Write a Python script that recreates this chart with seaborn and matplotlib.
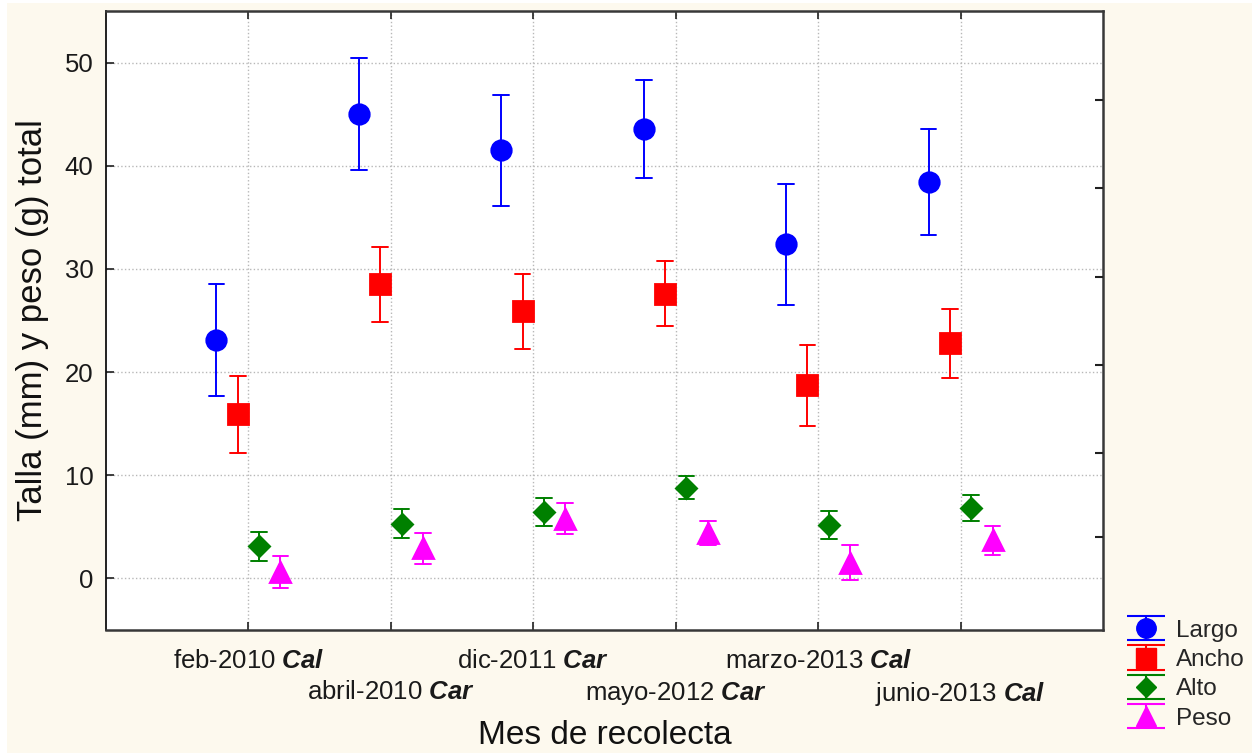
import numpy as np
import pandas as pd
import matplotlib
matplotlib.use("Agg")
import matplotlib.pyplot as plt
import seaborn as sns
from matplotlib.patches import Rectangle

# ---------------- data ----------------
meses = ["feb-2010 $\\mathbfit{Cal}$", "abril-2010 $\\mathbfit{Car}$",
         "dic-2011 $\\mathbfit{Car}$", "mayo-2012 $\\mathbfit{Car}$",
         "marzo-2013 $\\mathbfit{Cal}$", "junio-2013 $\\mathbfit{Cal}$"]
variables = ["Largo", "Ancho", "Alto", "Peso"]

largo_media = [23.1, 45.0, 41.5, 43.6, 32.4, 38.4]
largo_err = [5.4, 5.4, 5.4, 4.75, 5.85, 5.15]
ancho_media = [15.9, 28.5, 25.9, 27.6, 18.7, 22.8]
ancho_err = [3.7, 3.6, 3.65, 3.15, 3.9, 3.35]
alto_media = [3.1, 5.3, 6.4, 8.8, 5.2, 6.8]
alto_err = [1.4, 1.4, 1.35, 1.1, 1.35, 1.25]
peso_media = [0.6, 2.9, 5.8, 4.4, 1.5, 3.7]
peso_err = [1.55, 1.5, 1.5, 1.2, 1.7, 1.4]

yticks = [0, 10, 20, 30, 40, 50]
right_ticks = [46.4, 37.8, 29.2, 20.7, 12.2, 4.0]

colores = ["#0000FF", "#FF0000", "#008000", "#FF00FF"]
marcadores = ["o", "s", "D", "^"]
tam_marcador = [14, 14, 10.5, 14]

series = {"Largo": (largo_media, largo_err), "Ancho": (ancho_media, ancho_err),
          "Alto": (alto_media, alto_err), "Peso": (peso_media, peso_err)}

rows = []
for var in variables:
    media, err = series[var]
    for mes, m, e in zip(meses, media, err):
        rows.append({"mes": mes, "variable": var, "valor": m - e})
        rows.append({"mes": mes, "variable": var, "valor": m + e})
df = pd.DataFrame(rows)

# ---------------- style ----------------
sns.set_theme(style="white")
plt.rcParams["font.family"] = ["Liberation Sans", "DejaVu Sans"]
plt.rcParams["mathtext.fontset"] = "custom"
plt.rcParams["mathtext.rm"] = "Liberation Sans"
plt.rcParams["mathtext.it"] = "Liberation Sans:italic"
plt.rcParams["mathtext.bf"] = "Liberation Sans:bold"
plt.rcParams["mathtext.bfit"] = "Liberation Sans:italic:bold"

crema = "#FDF9EE"
fig = plt.figure(figsize=(12.6, 7.53), dpi=100)
fig.patch.set_facecolor("white")
fig.patches.append(Rectangle((7 / 1260, 0), (1252 - 7) / 1260, 1 - 3 / 753,
                             transform=fig.transFigure, facecolor=crema,
                             edgecolor="none", zorder=-10))
ax = fig.add_axes([106 / 1260, 1 - 630 / 753, (1103 - 106) / 1260, (630 - 11) / 753])
ax.set_facecolor("white")

sns.pointplot(data=df, x="mes", y="valor", hue="variable", order=meses,
              hue_order=variables, palette=colores, markers=marcadores,
              linestyles="none", dodge=0.45,
              errorbar=lambda v: (np.min(v), np.max(v)),
              capsize=0.11, err_kws={"linewidth": 1.4},
              legend=False, ax=ax)

for ln in ax.lines:
    mk = ln.get_marker()
    if mk in marcadores:
        ln.set_markersize(tam_marcador[marcadores.index(mk)])
        ln.set_zorder(4)

ax.set_xlim(-1, len(meses))
ax.set_ylim(-5, 55)
ax.set_yticks(yticks)
ax.set_yticklabels([str(t) for t in yticks])
ax.set_axisbelow(True)
ax.grid(True, linestyle=":", color="#B8B8B8", linewidth=1.0)

ax.tick_params(axis="both", direction="in", length=6, width=1.2, colors="#202020",
               labelsize=18.5, labelcolor="#1a1a1a", top=True, bottom=True, left=True, right=False)
ax.tick_params(axis="y", pad=9)
for s in ax.spines.values():
    s.set_color("#383838")
    s.set_linewidth(1.8)
ax.spines["left"].set_linewidth(1.3)
ax.spines["left"].set_color("#101010")

ax.set_xlabel("Mes de recolecta", fontsize=24, labelpad=9, color="#111111")
ax.set_ylabel("Talla (mm) y peso (g) total", fontsize=25, labelpad=11, color="#111111")

for i, tick in enumerate(ax.xaxis.get_major_ticks()):
    tick.set_pad(14 if i % 2 == 0 else 36)

# right-side ticks
ax2 = ax.twinx()
ax2.set_ylim(ax.get_ylim())
ax2.set_yticks(right_ticks)
ax2.tick_params(axis="y", direction="in", length=6, width=1.5, colors="#202020",
                labelright=False)
for s in ax2.spines.values():
    s.set_visible(False)

# legend
handles = []
for var, c, mk, ms in zip(variables, colores, marcadores, tam_marcador):
    h = ax.errorbar([np.nan], [np.nan], yerr=[1.0], fmt=mk, color=c, ms=ms,
                    capsize=14, elinewidth=1.5, capthick=1.5, label=var)
    handles.append(h)
fig.legend(handles=handles, labels=variables, loc="upper left",
           bbox_to_anchor=(1112 / 1260, 1 - 610 / 753), frameon=False,
           fontsize=17.5, handlelength=2.0, handletextpad=0.25, labelspacing=0.3,
           borderaxespad=0)

fig.savefig("out.png", dpi=100, facecolor=fig.get_facecolor())
